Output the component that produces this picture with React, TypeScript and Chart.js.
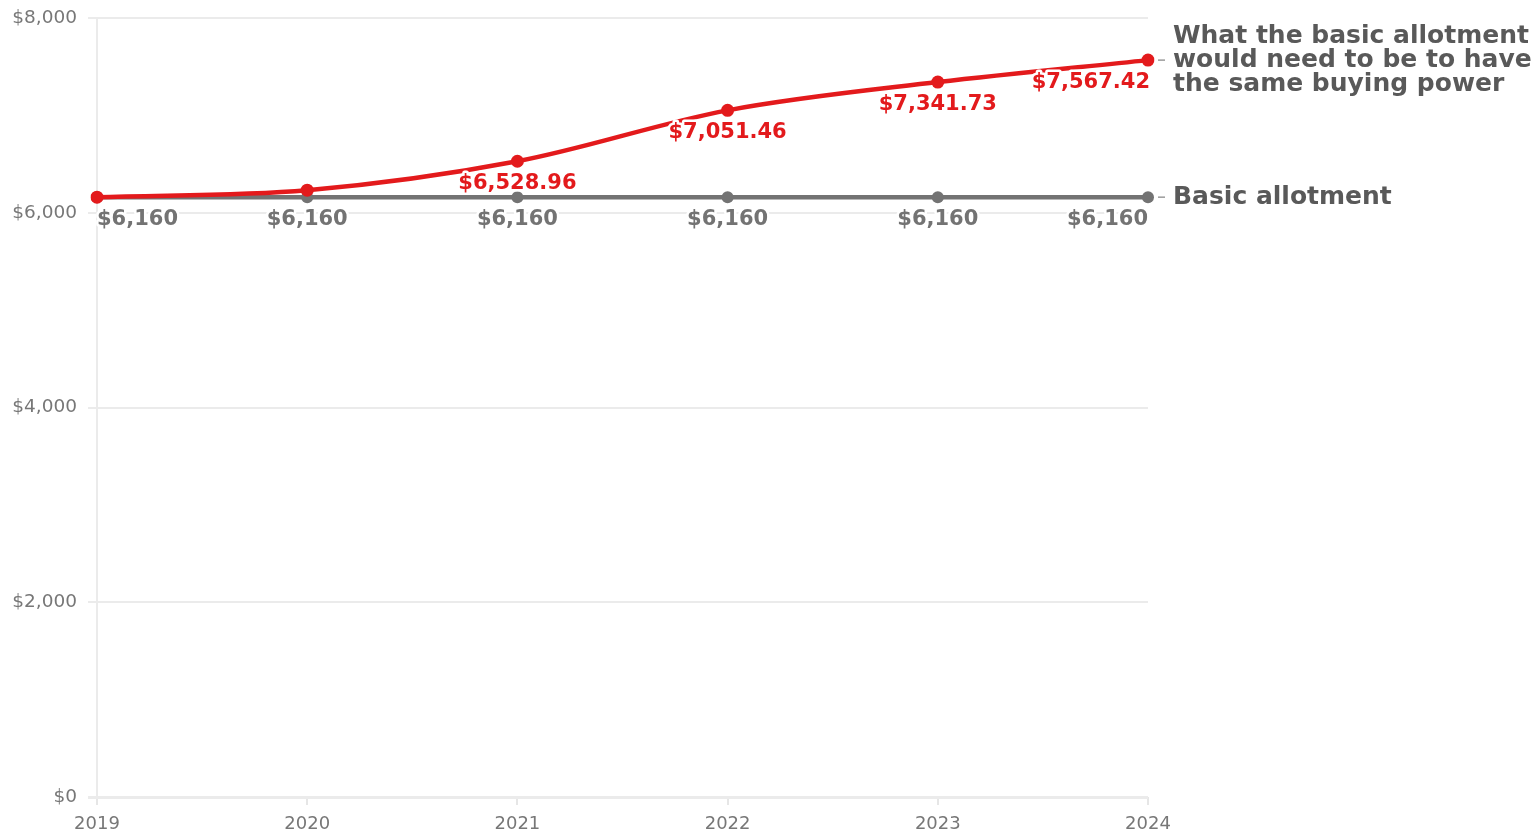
import React, { useEffect, useRef } from "react";
import { Chart, registerables } from "chart.js";

Chart.register(...registerables);

const years = ["2019", "2020", "2021", "2022", "2023", "2024"];
const neededValues = [6160, 6232, 6528.96, 7051.46, 7341.73, 7567.42];
const basicValues = [6160, 6160, 6160, 6160, 6160, 6160];
const neededLabelShown = [false, false, true, true, true, true];
const neededSeriesLabel = ["What the basic allotment", "would need to be to have", "the same buying power"];
const basicSeriesLabel = ["Basic allotment"];
const yTicks = [0, 2000, 4000, 6000, 8000];

const RED = "#e31a1c";
const GRAY = "#737373";
const FONT = "'DejaVu Sans', 'Open Sans', sans-serif";

const fmtInt = (v: number) => "$" + v.toLocaleString("en-US", { maximumFractionDigits: 0 });
const fmtDec = (v: number) => "$" + v.toLocaleString("en-US", { minimumFractionDigits: 2, maximumFractionDigits: 2 });

const labelsPlugin = {
  id: "customLabels",
  afterDatasetsDraw(chart: any) {
    const ctx = chart.ctx;
    ctx.save();
    ctx.lineJoin = "round";
    const drawHalo = (text: string, x: number, y: number, align: CanvasTextAlign, color: string) => {
      ctx.textAlign = align;
      ctx.textBaseline = "middle";
      ctx.strokeStyle = "#ffffff";
      ctx.lineWidth = 5;
      ctx.strokeText(text, x, y);
      ctx.fillStyle = color;
      ctx.fillText(text, x, y);
    };
    ctx.font = `bold 21px ${FONT}`;
    const n = years.length;
    const rMeta = chart.getDatasetMeta(0);
    const gMeta = chart.getDatasetMeta(1);
    // gray labels
    gMeta.data.forEach((pt: any, i: number) => {
      const align: CanvasTextAlign = i === 0 ? "left" : i === n - 1 ? "right" : "center";
      drawHalo(fmtInt(basicValues[i]), pt.x, pt.y + 22, align, GRAY);
    });
    // red labels
    rMeta.data.forEach((pt: any, i: number) => {
      if (!neededLabelShown[i]) return;
      const align: CanvasTextAlign = i === n - 1 ? "right" : "center";
      drawHalo(fmtDec(neededValues[i]), pt.x + (i === n - 1 ? 2 : 0), pt.y + 22, align, RED);
    });
    // series labels on the right
    ctx.font = `bold 25px ${FONT}`;
    ctx.textAlign = "left";
    ctx.textBaseline = "middle";
    const rEnd = rMeta.data[n - 1];
    const gEnd = gMeta.data[n - 1];
    const tx = rEnd.x + 25;
    ctx.strokeStyle = "#9a9a9a";
    ctx.lineWidth = 1.5;
    [rEnd, gEnd].forEach((p: any) => {
      ctx.beginPath();
      ctx.moveTo(p.x + 10, p.y);
      ctx.lineTo(p.x + 17, p.y);
      ctx.stroke();
    });
    ctx.fillStyle = "#595959";
    neededSeriesLabel.forEach((line, k) => {
      ctx.fillText(line, tx, rEnd.y + (k - 1) * 24);
    });
    basicSeriesLabel.forEach((line) => {
      ctx.fillText(line, tx, gEnd.y);
    });
    ctx.restore();
  },
};

export default function App() {
  const ref = useRef<HTMLCanvasElement | null>(null);
  useEffect(() => {
    if (!ref.current) return;
    const chart = new Chart(ref.current, {
      type: "line",
      data: {
        labels: years,
        datasets: [
          {
            label: "What the basic allotment would need to be to have the same buying power",
            data: neededValues,
            borderColor: RED,
            backgroundColor: RED,
            borderWidth: 4.5,
            pointRadius: 6.5,
            pointBorderWidth: 0,
            cubicInterpolationMode: "monotone",
            order: 0,
          },
          {
            label: "Basic allotment",
            data: basicValues,
            borderColor: GRAY,
            backgroundColor: GRAY,
            borderWidth: 4.5,
            pointRadius: 6,
            pointBorderWidth: 0,
            tension: 0,
            order: 1,
          },
        ],
      },
      options: {
        animation: false,
        responsive: true,
        maintainAspectRatio: false,
        layout: { padding: { top: 18, right: 388, left: 0, bottom: 0 } },
        plugins: { legend: { display: false }, tooltip: { enabled: false } },
        scales: {
          x: {
            offset: false,
            grid: {
              drawOnChartArea: false,
              drawTicks: true,
              tickLength: 8,
              tickColor: "#e6e6e6",
              lineWidth: 2,
            },
            border: { display: false },
            ticks: {
              color: "#777777",
              font: { family: FONT, size: 18 },
              padding: 9,
              maxRotation: 0,
            },
            afterFit: (s: any) => {
              s.height = 35;
              s.paddingLeft = 0;
              s.paddingRight = 0;
            },
          },
          y: {
            min: 0,
            max: 8000,
            afterBuildTicks: (s: any) => {
              s.ticks = yTicks.map((v) => ({ value: v }));
            },
            grid: {
              color: "#ebebeb",
              lineWidth: (c: any) => (c.tick && c.tick.value === 0 ? 3 : 2),
              tickLength: 9,
              drawTicks: true,
            },
            border: { display: true, color: "#ebebeb", width: 2 },
            ticks: {
              color: "#777777",
              font: { family: FONT, size: 18.5 },
              padding: 11,
              callback: (v: any) => "$" + Number(v).toLocaleString("en-US"),
            },
            afterFit: (s: any) => {
              s.width = 97;
              s.paddingTop = 0;
              s.paddingBottom = 0;
            },
          },
        },
      },
      plugins: [labelsPlugin],
    });
    return () => chart.destroy();
  }, []);
  return (
    <div style={{ position: "fixed", left: 0, top: 0, width: 1536, height: 832, background: "#fff" }}>
      <canvas ref={ref} />
    </div>
  );
}
